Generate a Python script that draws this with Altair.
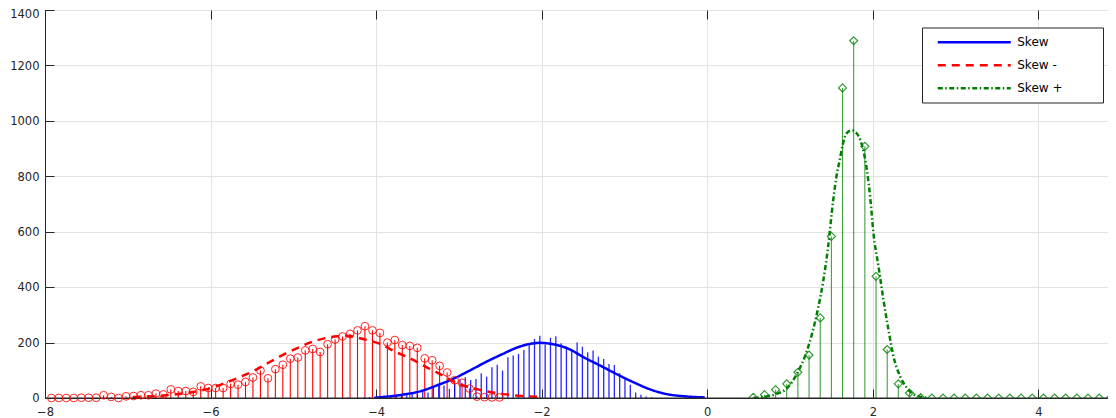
import altair as alt
import pandas as pd

# ---------------- data ----------------
# "Skew -" histogram (red stems with circles)
red_x = [-7.923, -7.833, -7.743, -7.652, -7.562, -7.472, -7.382, -7.292, -7.201, -7.111,
         -7.021, -6.931, -6.841, -6.750, -6.660, -6.570, -6.480, -6.390, -6.299, -6.209,
         -6.119, -6.029, -5.939, -5.848, -5.758, -5.668, -5.578, -5.488, -5.397, -5.307,
         -5.217, -5.127, -5.037, -4.946, -4.856, -4.766, -4.676, -4.586, -4.495, -4.405,
         -4.315, -4.225, -4.135, -4.044, -3.954, -3.864, -3.774, -3.684, -3.593, -3.503,
         -3.413, -3.323, -3.233, -3.142, -3.052, -2.962, -2.872, -2.782, -2.691, -2.601,
         -2.511]
red_y = [0, 0, 0, 0, 1, 1, 1, 10, 4, 0,
         6, 7, 10, 10, 16, 13, 31, 25, 25, 22,
         42, 36, 36, 36, 51, 48, 58, 74, 99, 71,
         104, 120, 142, 146, 172, 177, 166, 194, 211, 222,
         231, 244, 259, 244, 235, 200, 209, 191, 188, 181,
         143, 136, 116, 92, 64, 55, 34, 5, 3, 2,
         2]

# "Skew" histogram (blue stems, no markers)
blue_x = [-4.401, -4.337, -4.273, -4.208, -4.144, -4.080, -4.015, -3.951, -3.887, -3.823,
          -3.758, -3.694, -3.630, -3.565, -3.501, -3.437, -3.373, -3.308, -3.244, -3.180,
          -3.115, -3.051, -2.987, -2.923, -2.858, -2.794, -2.730, -2.665, -2.601, -2.537,
          -2.473, -2.408, -2.344, -2.280, -2.215, -2.151, -2.087, -2.022, -1.958, -1.894,
          -1.829, -1.765, -1.701, -1.637, -1.572, -1.508, -1.444, -1.379, -1.315, -1.251,
          -1.187, -1.122, -1.058, -0.994, -0.929, -0.865, -0.801, -0.737, -0.672]
blue_y = [1, 2, 0, 1, 3, 4, 3, 6, 5, 8,
          7, 12, 10, 20, 15, 27, 20, 39, 51, 45,
          33, 51, 65, 75, 65, 69, 89, 77, 111, 120,
          99, 147, 153, 159, 173, 190, 213, 225, 193, 217,
          223, 198, 185, 176, 200, 185, 165, 171, 149, 141,
          123, 119, 89, 69, 48, 20, 12, 5, 2]

# "Skew +" histogram (green stems with diamonds)
green_x = [0.556, 0.691, 0.826, 0.960, 1.095, 1.230, 1.365, 1.500, 1.634, 1.769,
           1.904, 2.039, 2.174, 2.308, 2.443, 2.578, 2.713, 2.848, 2.982, 3.117,
           3.252, 3.387, 3.522, 3.656, 3.791, 3.926, 4.061, 4.196, 4.330, 4.465,
           4.600, 4.735, 4.870]
green_y = [2, 12, 30, 51, 93, 155, 289, 583, 1119, 1289,
           908, 439, 175, 51, 18, 1, 0, 0, 0, 0,
           0, 0, 0, 0, 0, 0, 0, 0, 0, 0,
           0, 0, 0]

# fitted curves, points
blue_curve_x = [-4.02, -3.68, -3.47, -3.27, -3.07, -2.87, -2.66, -2.47, -2.27, -2.02,
                -1.88, -1.68, -1.48, -1.28, -1.08, -0.87, -0.68, -0.47, -0.27, -0.03]
blue_curve_y = [1, 12, 24, 45, 69, 99, 132, 159, 185, 199,
                195, 178, 145, 115, 84, 54, 30, 13, 6, 2]

red_curve_x = [-6.94, -6.61, -6.31, -6.03, -5.85, -5.65, -5.47, -5.29, -5.13, -4.95,
               -4.76, -4.56, -4.36, -4.16, -3.95, -3.77, -3.59, -3.41, -3.23, -3.05,
               -2.87, -2.66, -2.46, -2.24, -2.02]
red_curve_y = [3, 8, 17, 33, 51, 75, 99, 129, 155, 180,
               204, 219, 225, 213, 195, 167, 143, 114, 87, 57,
               38, 24, 14, 7, 4]

green_curve_x = [0.56, 0.70, 0.84, 0.97, 1.10, 1.18, 1.26, 1.34, 1.40, 1.46,
                 1.52, 1.56, 1.60, 1.64, 1.68, 1.745, 1.80, 1.85, 1.885, 1.93,
                 1.97, 2.006, 2.07, 2.13, 2.19, 2.25, 2.33, 2.41, 2.49, 2.57, 2.66]
green_curve_y = [1, 5, 15, 37, 97, 150, 225, 325, 420, 545,
                 710, 798, 858, 918, 954, 966, 957, 930, 894, 820,
                 720, 600, 472, 352, 245, 150, 78, 37, 14, 5, 1]

series_names = ["Skew", "Skew -", "Skew +"]
series_colors = ["#0000ff", "#ff0000", "#008000"]
series_dash = [[1, 0], [8, 6], [5, 2.5, 1.5, 2.5]]

x_ticks = [-8, -6, -4, -2, 0, 2, 4]
y_ticks = [0, 200, 400, 600, 800, 1000, 1200, 1400]

# ---------------- chart ----------------
W, H = 1072, 388
FONT = "DejaVu Sans"
AX = "#262626"
GRID = "#e3e3e3"

xs = alt.Scale(domain=[-8, 4.95], nice=False, zero=False)
ys = alt.Scale(domain=[0, 1400], nice=False)

red_df = pd.DataFrame({"x": red_x, "y": red_y})
blue_df = pd.DataFrame({"x": blue_x, "y": blue_y})
green_df = pd.DataFrame({"x": green_x, "y": green_y})
curves = pd.concat([
    pd.DataFrame({"x": blue_curve_x, "y": blue_curve_y, "series": series_names[0]}),
    pd.DataFrame({"x": red_curve_x, "y": red_curve_y, "series": series_names[1]}),
    pd.DataFrame({"x": green_curve_x, "y": green_curve_y, "series": series_names[2]}),
], ignore_index=True)
base_df = pd.DataFrame({"b": [0]})

main_x_axis = alt.Axis(values=x_ticks, title=None, ticks=False, domainColor=AX,
                       labelColor=AX, labelFont=FONT, labelFontSize=11.5, labelPadding=8,
                       grid=True, gridColor=GRID, labelFlush=False, format="d")
main_y_axis = alt.Axis(values=y_ticks, title=None, ticks=False, domainColor=AX,
                       labelColor=AX, labelFont=FONT, labelFontSize=11.5, labelPadding=6,
                       labelOffset={"condition": {"test": "datum.value === 1400", "value": 4.5},
                                    "value": 0.8},
                       grid=True, gridColor=GRID, format="d")


def tick_axis(orient, offset, values):
    return alt.Axis(orient=orient, offset=offset, values=values, title=None,
                    labels=False, domain=False, grid=False, ticks=True,
                    tickSize=9, tickColor=AX, tickWidth=1)


red_stems = alt.Chart(red_df).mark_rule(color="#ff0000", strokeWidth=1.1).encode(
    x=alt.X("x:Q", scale=xs, axis=main_x_axis),
    y=alt.Y("y:Q", scale=ys, axis=main_y_axis),
    y2=alt.datum(0),
)

blue_stems = alt.Chart(blue_df).mark_rule(color="#0000ff", strokeWidth=1.3, opacity=0.85).encode(
    x=alt.X("x:Q", scale=xs, axis=tick_axis("top", -H, x_ticks)),
    y=alt.Y("y:Q", scale=ys, axis=tick_axis("right", -W, y_ticks)),
    y2=alt.datum(0),
)

green_stems = alt.Chart(green_df).mark_rule(color="#008000", strokeWidth=1.1, opacity=0.75).encode(
    x=alt.X("x:Q", scale=xs, axis=tick_axis("bottom", -H, x_ticks)),
    y=alt.Y("y:Q", scale=ys, axis=tick_axis("left", -W, y_ticks)),
    y2=alt.datum(0),
)

leg = alt.Legend(title=None, orient="none", legendX=877, legendY=17.5,
                 symbolType="M0.2,0H14.8M30.6,0", symbolSize=100, symbolStrokeWidth=2.5,
                 labelOffset=74, labelFont=FONT, labelFontSize=12, labelColor="#000000",
                 padding=8.25, rowPadding=10, fillColor="#ffffff", strokeColor=AX,
                 cornerRadius=0, labelLimit=300)

lines = alt.Chart(curves).mark_line(strokeWidth=2.5, interpolate="monotone", clip=True).encode(
    x=alt.X("x:Q", scale=xs, axis=None),
    y=alt.Y("y:Q", scale=ys, axis=None),
    color=alt.Color("series:N", scale=alt.Scale(domain=series_names, range=series_colors), legend=leg),
    strokeDash=alt.StrokeDash("series:N", scale=alt.Scale(domain=series_names, range=series_dash), legend=leg),
)

baseline = alt.Chart(base_df).mark_rule(color=AX, strokeWidth=1).encode(
    y=alt.Y("b:Q", scale=ys, axis=None),
)

red_pts = alt.Chart(red_df).mark_point(shape="circle", filled=False, size=60, color="#ff0000",
                                       strokeWidth=1, opacity=0.85).encode(
    x=alt.X("x:Q", scale=xs, axis=None),
    y=alt.Y("y:Q", scale=ys, axis=None),
)

green_pts = alt.Chart(green_df).mark_point(shape="diamond", filled=False, size=64, color="#008000",
                                           strokeWidth=1.2, opacity=0.8, clip=True).encode(
    x=alt.X("x:Q", scale=xs, axis=None),
    y=alt.Y("y:Q", scale=ys, axis=None),
)

chart = alt.layer(
    red_stems, blue_stems, green_stems, lines, baseline, red_pts, green_pts
).resolve_axis(
    x="independent", y="independent"
).properties(
    width=W, height=H,
    autosize=alt.AutoSizeParams(type="none"),
    padding={"left": 37, "top": 2, "right": -9, "bottom": 20},
    background="#ffffff",
).configure_view(stroke=AX, strokeWidth=1)

chart.save("out.html", embed_options={"renderer": "svg", "actions": False})
